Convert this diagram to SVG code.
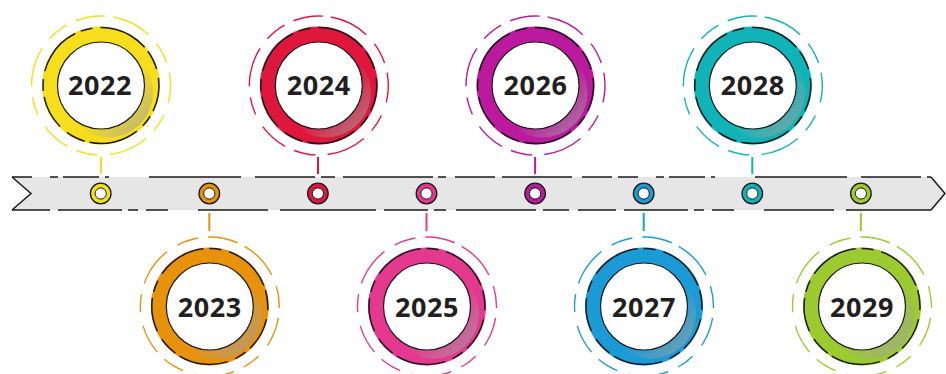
<svg xmlns="http://www.w3.org/2000/svg" width="946" height="374" viewBox="0 0 946 374">
<style>
.yr{font-family:"Open Sans","Liberation Sans",sans-serif;font-weight:700;font-size:27px;fill:#231f20;text-anchor:middle;letter-spacing:0.6px}
.outer{fill:none;stroke-width:1.4;stroke-dasharray:40 12 22 10 30 14 18 11}
.blk{fill:none;stroke:#1a1a1a;stroke-width:1.5;stroke-dasharray:34 6 12 8 50 5 20 9}
.white{fill:#fff;stroke:#1a1a1a;stroke-width:1.2}
.conn{stroke-width:2}
.sm-out{stroke:#1a1a1a;stroke-width:1.3}
.sm-in{fill:#fff;stroke:#1a1a1a;stroke-width:1}
.edge{fill:none;stroke:#1a1a1a;stroke-width:1.5}
</style>
<defs>
<linearGradient id="shade" x1="0" y1="0" x2="1" y2="1">
<stop offset="0.55" stop-color="#a0a0a0" stop-opacity="0"/>
<stop offset="0.82" stop-color="#a0a0a0" stop-opacity="0.5"/>
<stop offset="1" stop-color="#a0a0a0" stop-opacity="0.6"/>
</linearGradient>
</defs>

<g id="band">
<path d="M12,177 L931,177 L945,193.5 L931,210 L12,210 L31,193.5 Z" fill="#e6e6e6"/>
<path class="edge" d="M12,177 L31,193.5 L12,210"/>
<path class="edge" d="M931,177 L945,193.5 L931,210"/>
<path class="edge" d="M12,177 L931,177" stroke-dasharray="20 18 8 5 36 6 4 40 92 14 60 6 14 8 90 5 8 9 40 7 70 10 30 6"/>
<path class="edge" d="M12,210 L931,210" stroke-dasharray="38 8 64 6 10 8 22 30 70 12 96 8 44 6 12 10 80 7 26 9"/>
</g>

<g id="connectors">
<line class="conn" x1="101" y1="157" x2="101" y2="174" stroke="#F6DE1C"/>
<line class="conn" x1="209.3" y1="213" x2="209.3" y2="231" stroke="#E8920C"/>
<line class="conn" x1="318" y1="157" x2="318" y2="174" stroke="#E0173C"/>
<line class="conn" x1="426.5" y1="213" x2="426.5" y2="231" stroke="#E53990"/>
<line class="conn" x1="535.1" y1="157" x2="535.1" y2="174" stroke="#BC1A9E"/>
<line class="conn" x1="643.7" y1="213" x2="643.7" y2="231" stroke="#1A9BD5"/>
<line class="conn" x1="752.3" y1="157" x2="752.3" y2="174" stroke="#10B4B8"/>
<line class="conn" x1="860.9" y1="213" x2="860.9" y2="231" stroke="#9CCB30"/>
</g>

<g id="markers">
<g id="m2022"><circle class="sm-out" cx="100.7" cy="193.5" r="10.3" fill="#F6DE1C"/><circle class="sm-in" cx="100.7" cy="193.5" r="5.6"/></g>
<g id="m2023"><circle class="sm-out" cx="209.3" cy="193.5" r="10.3" fill="#E8920C"/><circle class="sm-in" cx="209.3" cy="193.5" r="5.6"/></g>
<g id="m2024"><circle class="sm-out" cx="317.9" cy="193.5" r="10.3" fill="#E0173C"/><circle class="sm-in" cx="317.9" cy="193.5" r="5.6"/></g>
<g id="m2025"><circle class="sm-out" cx="426.5" cy="193.5" r="10.3" fill="#E53990"/><circle class="sm-in" cx="426.5" cy="193.5" r="5.6"/></g>
<g id="m2026"><circle class="sm-out" cx="535.1" cy="193.5" r="10.3" fill="#BC1A9E"/><circle class="sm-in" cx="535.1" cy="193.5" r="5.6"/></g>
<g id="m2027"><circle class="sm-out" cx="643.7" cy="193.5" r="10.3" fill="#1A9BD5"/><circle class="sm-in" cx="643.7" cy="193.5" r="5.6"/></g>
<g id="m2028"><circle class="sm-out" cx="752.3" cy="193.5" r="10.3" fill="#10B4B8"/><circle class="sm-in" cx="752.3" cy="193.5" r="5.6"/></g>
<g id="m2029"><circle class="sm-out" cx="860.9" cy="193.5" r="10.3" fill="#9CCB30"/><circle class="sm-in" cx="860.9" cy="193.5" r="5.6"/></g>
</g>

<g id="n2022" transform="translate(101,85.5)">
<circle class="outer" r="69.5" stroke="#F6DE1C" transform="rotate(-80)"/>
<circle r="59" fill="#F6DE1C"/>
<circle cx="7" cy="7" r="45" fill="url(#shade)"/>
<circle class="blk" r="58" transform="rotate(-150)"/>
<circle class="white" r="43.5"/>
<text class="yr" x="-1" y="9.5">2022</text>
</g>

<g id="n2023" transform="translate(209.8,306.5)">
<circle class="outer" r="69.5" stroke="#E8920C" transform="rotate(-60)"/>
<circle r="59" fill="#E8920C"/>
<circle cx="7" cy="7" r="45" fill="url(#shade)"/>
<circle class="blk" r="58" transform="rotate(-130)"/>
<circle class="white" r="43.5"/>
<text class="yr" x="0" y="10.5">2023</text>
</g>

<g id="n2024" transform="translate(318.8,85.5)">
<circle class="outer" r="69.5" stroke="#E0173C" transform="rotate(-80)"/>
<circle r="59" fill="#E0173C"/>
<circle cx="7" cy="7" r="45" fill="url(#shade)"/>
<circle class="blk" r="58" transform="rotate(-150)"/>
<circle class="white" r="43.5"/>
<text class="yr" x="0" y="9.5">2024</text>
</g>

<g id="n2025" transform="translate(427,306.5)">
<circle class="outer" r="69.5" stroke="#E53990" transform="rotate(-60)"/>
<circle r="59" fill="#E53990"/>
<circle cx="7" cy="7" r="45" fill="url(#shade)"/>
<circle class="blk" r="58" transform="rotate(-130)"/>
<circle class="white" r="43.5"/>
<text class="yr" x="0" y="10.5">2025</text>
</g>

<g id="n2026" transform="translate(535.5,85.5)">
<circle class="outer" r="69.5" stroke="#BC1A9E" transform="rotate(-80)"/>
<circle r="59" fill="#BC1A9E"/>
<circle cx="7" cy="7" r="45" fill="url(#shade)"/>
<circle class="blk" r="58" transform="rotate(-150)"/>
<circle class="white" r="43.5"/>
<text class="yr" x="0" y="9.5">2026</text>
</g>

<g id="n2027" transform="translate(644,306.5)">
<circle class="outer" r="69.5" stroke="#1A9BD5" transform="rotate(-60)"/>
<circle r="59" fill="#1A9BD5"/>
<circle cx="7" cy="7" r="45" fill="url(#shade)"/>
<circle class="blk" r="58" transform="rotate(-130)"/>
<circle class="white" r="43.5"/>
<text class="yr" x="0" y="10.5">2027</text>
</g>

<g id="n2028" transform="translate(752.8,85.5)">
<circle class="outer" r="69.5" stroke="#10B4B8" transform="rotate(-80)"/>
<circle r="59" fill="#10B4B8"/>
<circle cx="7" cy="7" r="45" fill="url(#shade)"/>
<circle class="blk" r="58" transform="rotate(-150)"/>
<circle class="white" r="43.5"/>
<text class="yr" x="0" y="9.5">2028</text>
</g>

<g id="n2029" transform="translate(862,306.5)">
<circle class="outer" r="69.5" stroke="#9CCB30" transform="rotate(-60)"/>
<circle r="59" fill="#9CCB30"/>
<circle cx="7" cy="7" r="45" fill="url(#shade)"/>
<circle class="blk" r="58" transform="rotate(-130)"/>
<circle class="white" r="43.5"/>
<text class="yr" x="0" y="10.5">2029</text>
</g>
</svg>
